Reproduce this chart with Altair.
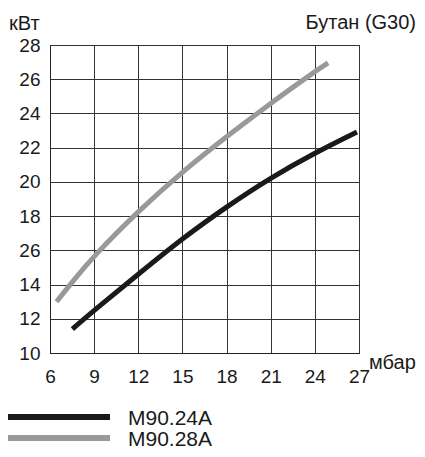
import altair as alt
import pandas as pd

# ---- data ----
series = ["M90.24A", "M90.28A"]
colors = ["#1a1a1a", "#999999"]

pressure_24 = [7.52, 9, 12, 15, 18, 21, 24, 26.86]
power_24 = [11.4, 12.5, 14.6, 16.7, 18.55, 20.25, 21.7, 22.92]

pressure_28 = [6.45, 7.36, 9, 12, 15, 18, 21, 24, 24.9]
power_28 = [13.0, 14.0, 15.7, 18.3, 20.6, 22.65, 24.6, 26.45, 26.95]

x_ticks = [6, 9, 12, 15, 18, 21, 24, 27]
y_ticks = [10, 12, 14, 16, 18, 20, 22, 24, 26, 28]
y_tick_labels = ["10", "12", "14", "26", "18", "20", "22", "24", "26", "28"]

y_title = "кВт"
x_title = "мбар"
gas_title = "Бутан (G30)"

FONT = "Liberation Sans"

df = pd.concat([
    pd.DataFrame({"series": series[0], "pressure": pressure_24, "power": power_24}),
    pd.DataFrame({"series": series[1], "pressure": pressure_28, "power": power_28}),
], ignore_index=True)

label_expr = " : ".join(
    f"datum.value == {v} ? '{l}'" for v, l in zip(y_ticks, y_tick_labels)
) + " : datum.label"

color_scale = alt.Scale(domain=series, range=colors)

lines = alt.Chart(df).mark_line(strokeWidth=5, interpolate="basis").encode(
    x=alt.X("pressure:Q", scale=alt.Scale(domain=[6, 27], nice=False, zero=False),
            axis=alt.Axis(values=x_ticks, title=None, labelPadding=14, tickSize=0,
                          labelFlush=False)),
    y=alt.Y("power:Q", scale=alt.Scale(domain=[10, 28], nice=False, zero=False),
            axis=alt.Axis(values=y_ticks, title=None, labelPadding=10, tickSize=0,
                          labelExpr=label_expr, labelBaseline="middle", labelFlush=False)),
    color=alt.Color("series:N", scale=color_scale, legend=None),
    detail="series:N",
)

leg_df = pd.DataFrame({"series": series})
leg_y = alt.Y("series:N", scale=alt.Scale(type="point", domain=series, range=[372, 393], padding=0),
              axis=None)

leg_rule = alt.Chart(leg_df).mark_rule(strokeWidth=6).encode(
    x=alt.value(-45), x2=alt.value(60), y=leg_y,
    color=alt.Color("series:N", scale=color_scale, legend=None),
)
leg_text = alt.Chart(leg_df).mark_text(
    align="left", baseline="middle", font=FONT, fontSize=21, color="#1a1a1a", dy=1.5
).encode(x=alt.value(78), y=leg_y, text="series:N")

t_y = alt.Chart(pd.DataFrame({"t": [y_title]})).mark_text(
    align="left", baseline="alphabetic", font=FONT, fontSize=20, color="#1a1a1a"
).encode(x=alt.value(-41), y=alt.value(-15.5), text="t:N")
t_gas = alt.Chart(pd.DataFrame({"t": [gas_title]})).mark_text(
    align="right", baseline="alphabetic", font=FONT, fontSize=20, color="#1a1a1a"
).encode(x=alt.value(366), y=alt.value(-16.5), text="t:N")
t_x = alt.Chart(pd.DataFrame({"t": [x_title]})).mark_text(
    align="left", baseline="alphabetic", font=FONT, fontSize=20, color="#1a1a1a"
).encode(x=alt.value(319), y=alt.value(324), text="t:N")

chart = alt.layer(lines, leg_rule, leg_text, t_y, t_gas, t_x).resolve_scale(
    y="independent"
).properties(
    width=309, height=308,
    background="white",
    autosize=alt.AutoSizeParams(type="none"),
    padding={"left": 42, "top": 37, "right": 58, "bottom": 96},
).configure_view(
    stroke="#333333", strokeWidth=1
).configure_axis(
    grid=True, gridColor="#333333", gridWidth=1, gridOpacity=1,
    domainColor="#222222", domainWidth=1,
    labelFont=FONT, labelFontSize=19, labelColor="#1a1a1a",
)

chart.save("out.html", embed_options={"renderer": "svg", "actions": False})
